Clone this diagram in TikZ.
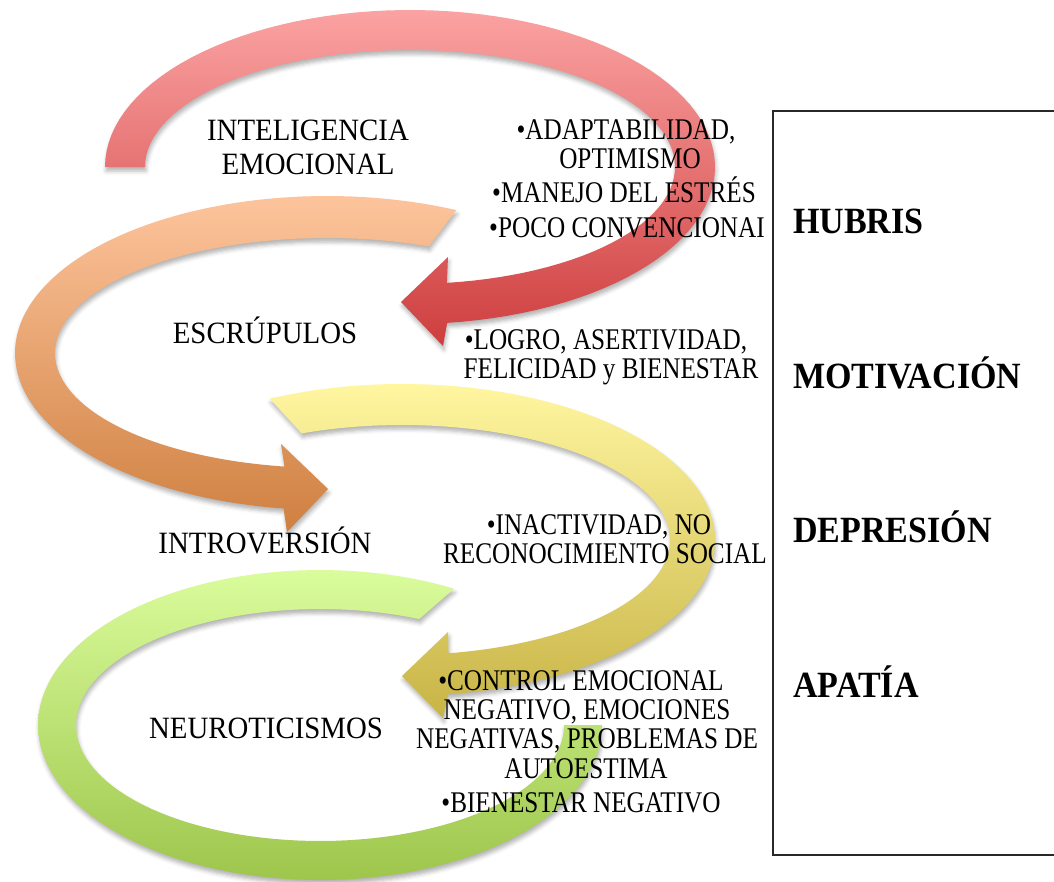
\documentclass[tikz,border=0pt]{standalone}
\usepackage{fontspec}
\setmainfont{Liberation Serif}
\newfontfamily\lblfont[FakeStretch=0.93]{Liberation Serif}
\newfontfamily\itemfont[FakeStretch=0.84]{Liberation Serif}
\newfontfamily\keyfont[FakeStretch=0.92]{Liberation Serif}
\usetikzlibrary{shadows.blur}

% arrow colours (top / bottom of each gradient)
\definecolor{redA}{RGB}{251,162,162}
\definecolor{redB}{RGB}{206,62,62}
\definecolor{orgA}{RGB}{253,196,156}
\definecolor{orgB}{RGB}{207,128,64}
\definecolor{yelA}{RGB}{255,246,160}
\definecolor{yelB}{RGB}{200,180,70}
\definecolor{grnA}{RGB}{218,252,156}
\definecolor{grnB}{RGB}{158,198,76}
\definecolor{frame}{RGB}{40,40,40}

\begin{document}
\begin{tikzpicture}[x=1pt,y=-1pt,
  band/.style={blur shadow={shadow xshift=1pt,shadow yshift=-4pt,
      shadow blur radius=4pt,shadow opacity=30}},
  lbl/.style={font=\lblfont\fontsize{31}{31}\selectfont,inner sep=0pt,anchor=base},
  item/.style={font=\itemfont\fontsize{30}{30}\selectfont,inner sep=0pt,anchor=base},
  key/.style={font=\keyfont\bfseries\fontsize{37}{37}\selectfont,inner sep=0pt,anchor=base west}]
\useasboundingbox (0,0) rectangle (1054,881);

% --- curved arrow 1: over the top, clockwise, head pointing left
\path[band,top color=redA,bottom color=redB]
  plot[domain=180:-83,samples=90,variable=\t] ({410+305*cos(\t)},{167-157*sin(\t)})
  -- (443,346) -- (401,302) -- (448,257)
  -- plot[domain=-82:180,samples=90,variable=\t] ({410+265*cos(\t)},{167-117*sin(\t)})
  -- cycle;

% --- curved arrow 2: round the left, counter-clockwise, head pointing right
\path[band,top color=orgA,bottom color=orgB]
  plot[domain=65.5:262,samples=90,variable=\t] ({327+312*cos(\t)},{353-157*sin(\t)})
  -- (287,532) -- (328,489) -- (281,444)
  -- plot[domain=261:68,samples=90,variable=\t] ({327+272*cos(\t)},{353-115*sin(\t)})
  -- cycle;

% --- curved arrow 3: round the right, clockwise, head pointing left
\path[band,top color=yelA,bottom color=yelB]
  plot[domain=115:-81.5,samples=90,variable=\t] ({402+313*cos(\t)},{540-156*sin(\t)})
  -- (443,718) -- (402,676) -- (448,632)
  -- plot[domain=-80:112,samples=90,variable=\t] ({402+268*cos(\t)},{540-115*sin(\t)})
  -- cycle;

% --- curved band 4: round the left and up the right side
\path[band,top color=grnA,bottom color=grnB]
  plot[domain=61.6:360,samples=100,variable=\t] ({320+282*cos(\t)},{725-155*sin(\t)})
  -- plot[domain=360:66,samples=100,variable=\t] ({320+244*cos(\t)},{725-116*sin(\t)})
  -- cycle;

% --- stage names
\node[lbl] (ie1) at (308,140) {INTELIGENCIA};
\node[lbl] (ie2) at (308,174) {EMOCIONAL};
\node[lbl] (esc) at (265,343) {ESCRÚPULOS};
\node[lbl] (int) at (265,553) {INTROVERSIÓN};
\node[lbl] (neu) at (266,738) {NEUROTICISMOS};

% --- traits
\node[item] (a1) at (626,139) {•ADAPTABILIDAD,};
\node[item] (a2) at (630,168) {OPTIMISMO};
\node[item] (a3) at (624,202) {•MANEJO DEL ESTRÉS};
\node[item] (a4) at (627,237) {•POCO CONVENCIONAI};
\node[item] (b1) at (606,349) {•LOGRO, ASERTIVIDAD,};
\node[item] (b2) at (611,378) {FELICIDAD y BIENESTAR};
\node[item] (c1) at (599,534) {•INACTIVIDAD, NO};
\node[item] (c2) at (605,563) {RECONOCIMIENTO SOCIAL};
\node[item] (d1) at (581,690) {•CONTROL EMOCIONAL};
\node[item] (d2) at (587,719) {NEGATIVO, EMOCIONES};
\node[item] (d3) at (587,748) {NEGATIVAS, PROBLEMAS DE};
\node[item] (d4) at (586,778) {AUTOESTIMA};
\node[item] (d5) at (581,812) {•BIENESTAR NEGATIVO};

% --- outcome column
\coordinate (fr1) at (1058,111);
\coordinate (fr2) at (773,111);
\coordinate (fr3) at (773,855);
\coordinate (fr4) at (1058,855);
\draw[frame,line width=1.5pt] (fr1) -- (fr2) -- (fr3) -- (fr4);
\node[key] (k1) at (793,233) {HUBRIS};
\node[key] (k2) at (793,388) {MOTIVACIÓN};
\node[key] (k3) at (793,542) {DEPRESIÓN};
\node[key] (k4) at (793,697) {APATÍA};
\end{tikzpicture}
\end{document}
